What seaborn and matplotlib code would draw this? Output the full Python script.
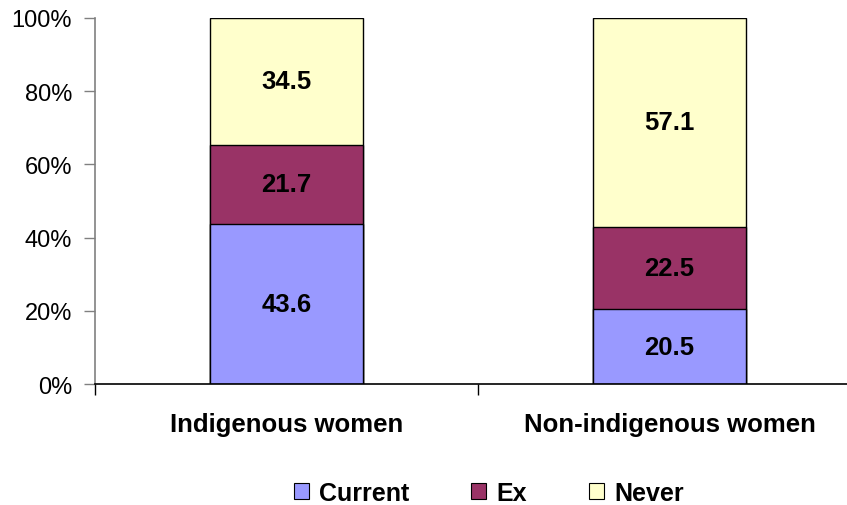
import numpy as np
import pandas as pd
import matplotlib
matplotlib.use("Agg")
import matplotlib.pyplot as plt
import seaborn as sns
from matplotlib.patches import Patch
from matplotlib.ticker import FixedLocator, PercentFormatter

groups = ["Indigenous women", "Non-indigenous women"]
statuses = ["Current", "Ex", "Never"]
current = [43.6, 20.5]
ex = [21.7, 22.5]
never = [34.5, 57.1]
colors = {"Current": "#9999FF", "Ex": "#993366", "Never": "#FFFFCC"}

sns.set_theme(style="white")
plt.rcParams["font.family"] = ["Liberation Sans", "DejaVu Sans"]
plt.rcParams["text.color"] = "black"
plt.rcParams["xtick.color"] = "black"
plt.rcParams["ytick.color"] = "black"

df = pd.DataFrame({"group": groups, "Current": current, "Ex": ex, "Never": never})
total = df[statuses].sum(axis=1)
share = df[statuses].div(total, axis=0) * 100
cum = share.cumsum(axis=1)
cum["group"] = df["group"]

fig = plt.figure(figsize=(8.47, 5.06), dpi=100)
ax = fig.add_axes([0.1122, 0.2391, 0.9043, 0.7234])

# stacked bars drawn as overlapping cumulative totals, top segment first
for s in reversed(statuses):
    sns.barplot(data=cum, x="group", y=s, color=colors[s], width=0.4,
                edgecolor="black", linewidth=1.0, saturation=1, ax=ax, zorder=2)

# segment labels at each segment's centre
for i in range(len(groups)):
    base = 0.0
    for s in statuses:
        h = share.loc[i, s]
        ax.text(i, base + h / 2, f"{df.loc[i, s]:.1f}", ha="center", va="center",
                fontsize=18.5, fontweight="bold", color="black", zorder=3)
        base += h

ax.set_xlim(-0.5, 1.5)
ax.set_ylim(0, 100)
ax.set_xlabel("")
ax.set_ylabel("")
ax.yaxis.set_major_locator(FixedLocator([0, 20, 40, 60, 80, 100]))
ax.yaxis.set_major_formatter(PercentFormatter(decimals=0))
ax.tick_params(axis="y", which="major", left=True, length=8, width=1,
               color="#808080", labelsize=17, pad=8.5, labelcolor="black")
ax.tick_params(axis="x", which="major", length=0, labelsize=18.5, pad=20,
               labelcolor="black")
for lab in ax.get_xticklabels():
    lab.set_fontweight("bold")
ax.xaxis.set_minor_locator(FixedLocator([-0.5, 0.5, 1.5]))
ax.tick_params(axis="x", which="minor", bottom=True, length=8, width=1, color="black")

for side in ["top", "right"]:
    ax.spines[side].set_visible(False)
ax.spines["left"].set_color("#808080")
ax.spines["left"].set_linewidth(1.2)
ax.spines["bottom"].set_color("black")
ax.spines["bottom"].set_linewidth(1.2)
ax.set_facecolor("white")

handles = [Patch(facecolor=colors[s], edgecolor="black", linewidth=0.8, label=s) for s in statuses]
leg = fig.legend(handles=handles, loc="center", bbox_to_anchor=(0.577, 0.024), ncol=3,
                 frameon=False, handlelength=0.6, handleheight=0.6, handletextpad=0.4,
                 columnspacing=2.5, prop={"size": 18, "weight": "bold"})

fig.savefig("out.png", dpi=100)
